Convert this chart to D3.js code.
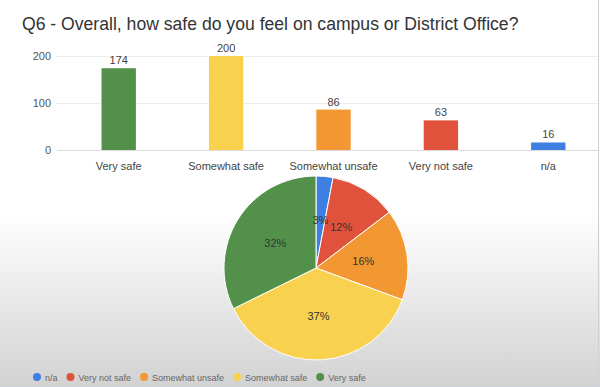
<!DOCTYPE html>
<html>
<head>
<meta charset="utf-8">
<script src="https://cdn.jsdelivr.net/npm/d3@7"></script>
<style>
  body { margin: 0; }
  svg { display: block; font-family: "Liberation Sans", Arial, sans-serif; }
</style>
</head>
<body>
<div id="chart"></div>
<script>
const title = "Q6 - Overall, how safe do you feel on campus or District Office?";
const barCategories = ["Very safe", "Somewhat safe", "Somewhat unsafe", "Very not safe", "n/a"];
const barValues = [174, 200, 86, 63, 16];
const yTicks = [0, 100, 200];
const pieCategories = ["n/a", "Very not safe", "Somewhat unsafe", "Somewhat safe", "Very safe"];
const pieValues = [16, 63, 86, 200, 174];
const colors = {
  "Very safe": "#53914b",
  "Somewhat safe": "#f8d14e",
  "Somewhat unsafe": "#f29731",
  "Very not safe": "#e1523c",
  "n/a": "#3e80e2",
};

const W = 600, H = 387;
const svg = d3.select("#chart").append("svg").attr("width", W).attr("height", H);

const defs = svg.append("defs");
const grad = defs.append("linearGradient").attr("id", "bg").attr("x1", 0).attr("y1", 0).attr("x2", 0).attr("y2", 1);
grad.append("stop").attr("offset", "0.55").attr("stop-color", "#ffffff");
grad.append("stop").attr("offset", "1").attr("stop-color", "#d2d2d2");
svg.append("rect").attr("width", W).attr("height", H).attr("fill", "url(#bg)");
svg.append("line").attr("x1", 598.5).attr("x2", 598.5).attr("y1", 0).attr("y2", H)
  .attr("stroke", "#c9d2da").attr("stroke-width", 1);
svg.append("line").attr("x1", 0).attr("x2", W).attr("y1", 386.5).attr("y2", 386.5)
  .attr("stroke", "#c9d2da").attr("stroke-width", 1);

svg.append("text").attr("x", 22).attr("y", 30)
  .style("font-size", "17.6px").style("fill", "#333")
  .text(title);

// bar chart
const x = d3.scaleBand().domain(barCategories).range([65, 602]).paddingInner(0.68).paddingOuter(0.34);
const y = d3.scaleLinear().domain([0, 200]).range([150, 56]);

svg.append("g").selectAll("line").data(yTicks).enter().append("line")
  .attr("x1", 57).attr("x2", 598)
  .attr("y1", d => y(d) + 0.5).attr("y2", d => y(d) + 0.5)
  .attr("stroke", d => d === 0 ? "#dcdcdc" : "#ececec");

svg.append("g").selectAll("text").data(yTicks).enter().append("text")
  .attr("x", 51).attr("y", d => y(d) + 4)
  .attr("text-anchor", "end")
  .style("font-size", "11px").style("fill", "#555")
  .text(d => d);

svg.append("g").selectAll("rect").data(barValues).enter().append("rect")
  .attr("x", (d, i) => x(barCategories[i]))
  .attr("width", x.bandwidth())
  .attr("y", d => y(d))
  .attr("height", d => y(0) - y(d))
  .attr("fill", (d, i) => colors[barCategories[i]]);

svg.append("g").selectAll("text").data(barValues).enter().append("text")
  .attr("x", (d, i) => x(barCategories[i]) + x.bandwidth() / 2)
  .attr("y", d => y(d) - 4)
  .attr("text-anchor", "middle")
  .style("font-size", "11px").style("fill", "#444")
  .text(d => d);

svg.append("g").selectAll("text").data(barCategories).enter().append("text")
  .attr("x", d => x(d) + x.bandwidth() / 2)
  .attr("y", 170)
  .attr("text-anchor", "middle")
  .style("font-size", "11px").style("fill", "#444")
  .text(d => d);

// pie chart
const cx = 316, cy = 268, r = 92;
const total = d3.sum(pieValues);
const pie = d3.pie().sort(null)(pieValues);
const arc = d3.arc().innerRadius(0).outerRadius(r);
const labelArc = d3.arc().innerRadius(r * 0.52).outerRadius(r * 0.52);
const pg = svg.append("g").attr("transform", `translate(${cx},${cy})`);

pg.selectAll("path").data(pie).enter().append("path")
  .attr("d", arc)
  .attr("fill", (d, i) => colors[pieCategories[i]])
  .attr("stroke", "#fff").attr("stroke-width", 1);

pg.selectAll("text").data(pie).enter().append("text")
  .attr("transform", d => `translate(${labelArc.centroid(d)})`)
  .attr("dy", "0.35em")
  .attr("text-anchor", "middle")
  .style("font-size", "11px").style("fill", "#333")
  .text(d => Math.round(d.value / total * 100) + "%");

// legend
const lg = svg.append("g");
let lx = 37;
pieCategories.forEach(c => {
  lg.append("circle").attr("cx", lx).attr("cy", 377).attr("r", 4).attr("fill", colors[c]);
  const t = lg.append("text").attr("x", lx + 8).attr("y", 380.5)
    .style("font-size", "9px").style("fill", "#666").text(c);
  lx += 8 + t.node().getComputedTextLength() + 13;
});
</script>
</body>
</html>
